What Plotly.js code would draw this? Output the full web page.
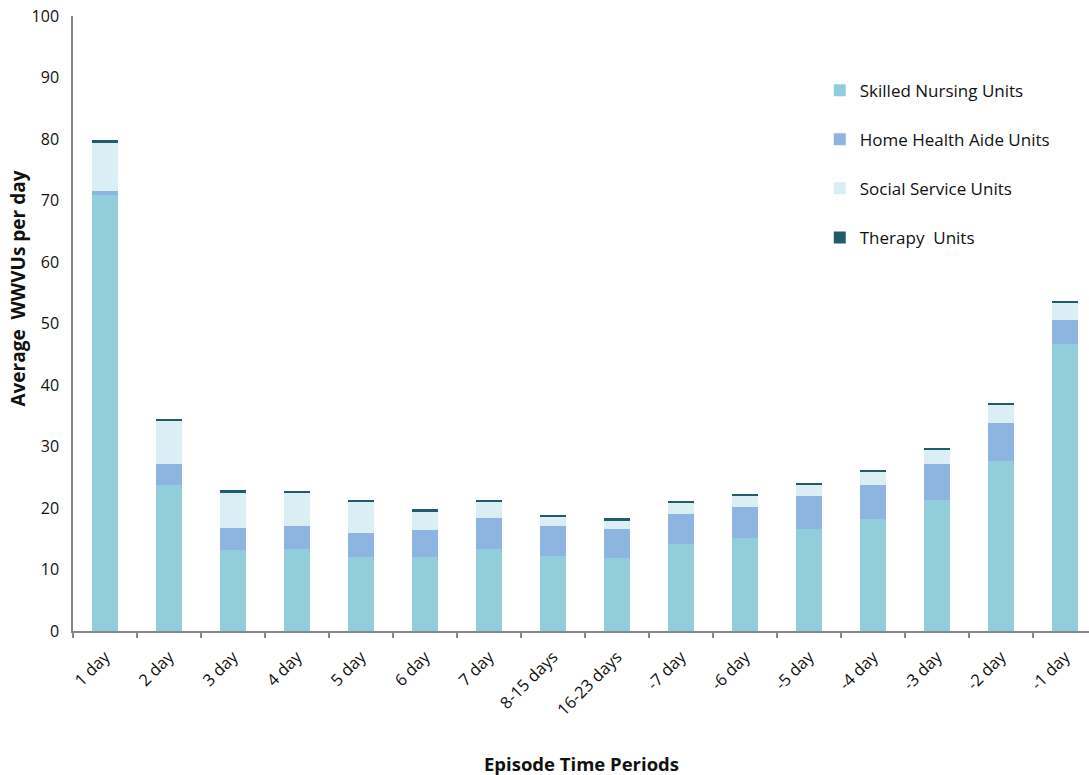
<!DOCTYPE html>
<html>
<head>
<meta charset="utf-8">
<script src="https://cdn.plot.ly/plotly-3.0.1.min.js"></script>
<style>
  html, body { margin: 0; padding: 0; background: #fff; }
  #chart { width: 1089px; height: 775px; }
</style>
</head>
<body>
<div id="chart"></div>
<script>
// Episode time periods (x categories)
const periods = ["1 day", "2 day", "3 day", "4 day", "5 day", "6 day", "7 day",
  "8-15 days", "16-23 days", "-7 day", "-6 day", "-5 day", "-4 day", "-3 day", "-2 day", "-1 day"];

// Average WWVUs per day by service type
const skilledNursing = [70.9, 23.8, 13.2, 13.3, 12.0, 12.0, 13.3, 12.2, 11.8, 14.1, 15.1, 16.6, 18.2, 21.3, 27.6, 46.7];
const homeHealthAide = [0.6, 3.3, 3.6, 3.8, 4.0, 4.4, 5.1, 4.9, 4.8, 5.0, 5.1, 5.4, 5.6, 5.9, 6.3, 3.8];
const socialService  = [8.0, 7.1, 5.8, 5.4, 5.0, 3.1, 2.6, 1.5, 1.4, 1.8, 1.8, 1.8, 2.1, 2.3, 2.9, 2.9];
const therapy        = [0.3, 0.3, 0.3, 0.3, 0.3, 0.3, 0.3, 0.3, 0.3, 0.3, 0.3, 0.3, 0.3, 0.3, 0.3, 0.3];

const seriesNames = ["Skilled Nursing Units", "Home Health Aide Units", "Social Service Units", "Therapy  Units"];
const seriesColors = ["#92CDDC", "#8EB4E0", "#DBEEF4", "#235B6B"];
const seriesValues = [skilledNursing, homeHealthAide, socialService, therapy];

const FONT = "'Open Sans', 'DejaVu Sans', sans-serif";

const traces = seriesValues.map((vals, i) => ({
  type: "bar",
  name: seriesNames[i],
  x: periods,
  y: vals,
  legendgroup: "g" + i,
  marker: { color: seriesColors[i], line: { width: 0 } },
  hoverinfo: "x+y+name"
}));

const layout = {
  width: 1089,
  height: 775,
  margin: { l: 73, r: 0, t: 16, b: 144 },
  paper_bgcolor: "#ffffff",
  plot_bgcolor: "#ffffff",
  barmode: "stack",
  bargap: 0.6,
  font: { family: FONT, size: 16, color: "#111" },
  showlegend: true,
  legend: {
    x: 0.735, y: 0.908, xanchor: "left", yanchor: "top",
    traceorder: "grouped",
    tracegroupgap: 24,
    font: { family: FONT, size: 17, color: "#111" },
    bgcolor: "rgba(0,0,0,0)"
  },
  xaxis: {
    type: "category",
    range: [-0.5, 15.375],
    tickangle: -45,
    showline: true,
    linecolor: "#878787",
    linewidth: 1.5,
    ticks: "outside",
    tickson: "boundaries",
    ticklen: 5,
    tickcolor: "#878787",
    tickwidth: 1.5,
    ticklabelstandoff: 8,
    showgrid: false,
    zeroline: false,
    tickfont: { family: FONT, size: 16.5, color: "#111" }
  },
  yaxis: {
    range: [0, 100],
    dtick: 10,
    showline: true,
    linecolor: "#878787",
    linewidth: 1.5,
    ticks: "",
    ticklabelstandoff: 9,
    showgrid: false,
    zeroline: false,
    tickfont: { family: FONT, size: 16, color: "#111" }
  },
  annotations: [
    {
      text: "<b>Average  WWVUs per day</b>",
      xref: "paper", yref: "paper",
      x: -0.054, y: 0.557,
      xanchor: "center", yanchor: "middle",
      textangle: -90, showarrow: false,
      font: { family: FONT, size: 19, color: "#111" }
    },
    {
      text: "<b>Episode Time Periods</b>",
      xref: "paper", yref: "paper",
      x: 0.5, y: -0.215,
      xanchor: "center", yanchor: "middle",
      showarrow: false,
      font: { family: FONT, size: 18.5, color: "#111" }
    }
  ]
};

Plotly.newPlot("chart", traces, layout, { displayModeBar: false, responsive: false });
</script>
</body>
</html>
